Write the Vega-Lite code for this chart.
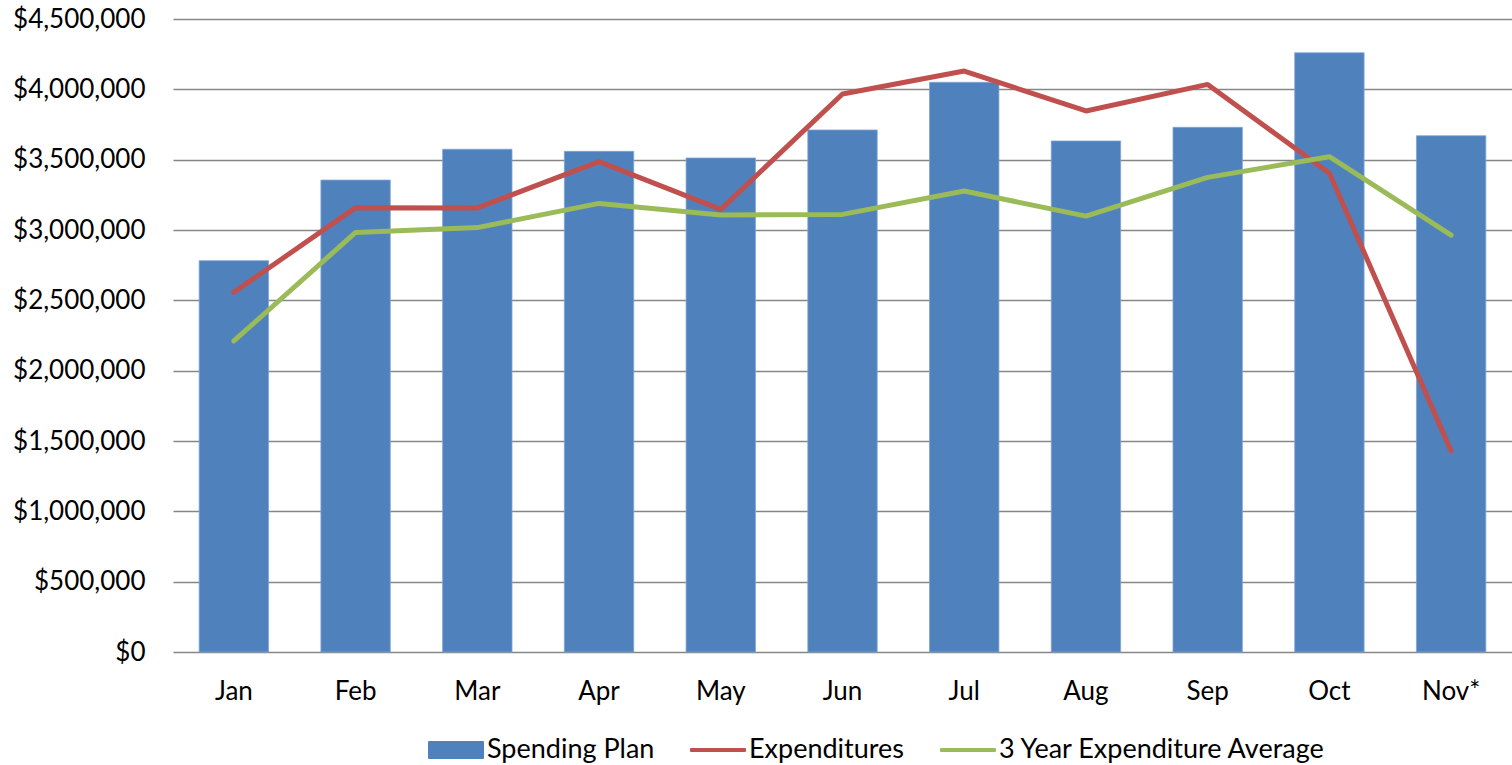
{
  "$schema": "https://vega.github.io/schema/vega-lite/v6.json",
  "width": 1339,
  "height": 633,
  "autosize": {"type": "none"},
  "padding": {"left": 173, "top": 19, "right": 0, "bottom": 113},
  "background": "white",
  "config": {"view": {"stroke": null}, "font": "Lato"},
  "data": {
    "values": [
      {"month": "Jan", "series": "Spending Plan", "value": 2782000},
      {"month": "Feb", "series": "Spending Plan", "value": 3355000},
      {"month": "Mar", "series": "Spending Plan", "value": 3574000},
      {"month": "Apr", "series": "Spending Plan", "value": 3559000},
      {"month": "May", "series": "Spending Plan", "value": 3512000},
      {"month": "Jun", "series": "Spending Plan", "value": 3711000},
      {"month": "Jul", "series": "Spending Plan", "value": 4050000},
      {"month": "Aug", "series": "Spending Plan", "value": 3633000},
      {"month": "Sep", "series": "Spending Plan", "value": 3730000},
      {"month": "Oct", "series": "Spending Plan", "value": 4260000},
      {"month": "Nov*", "series": "Spending Plan", "value": 3670000},
      {"month": "Jan", "series": "Expenditures", "value": 2557000},
      {"month": "Feb", "series": "Expenditures", "value": 3159000},
      {"month": "Mar", "series": "Expenditures", "value": 3157000},
      {"month": "Apr", "series": "Expenditures", "value": 3486000},
      {"month": "May", "series": "Expenditures", "value": 3147000},
      {"month": "Jun", "series": "Expenditures", "value": 3967000},
      {"month": "Jul", "series": "Expenditures", "value": 4130000},
      {"month": "Aug", "series": "Expenditures", "value": 3846000},
      {"month": "Sep", "series": "Expenditures", "value": 4035000},
      {"month": "Oct", "series": "Expenditures", "value": 3403000},
      {"month": "Nov*", "series": "Expenditures", "value": 1429000},
      {"month": "Jan", "series": "3 Year Expenditure Average", "value": 2211000},
      {"month": "Feb", "series": "3 Year Expenditure Average", "value": 2983000},
      {"month": "Mar", "series": "3 Year Expenditure Average", "value": 3017000},
      {"month": "Apr", "series": "3 Year Expenditure Average", "value": 3189000},
      {"month": "May", "series": "3 Year Expenditure Average", "value": 3107000},
      {"month": "Jun", "series": "3 Year Expenditure Average", "value": 3111000},
      {"month": "Jul", "series": "3 Year Expenditure Average", "value": 3277000},
      {"month": "Aug", "series": "3 Year Expenditure Average", "value": 3099000},
      {"month": "Sep", "series": "3 Year Expenditure Average", "value": 3374000},
      {"month": "Oct", "series": "3 Year Expenditure Average", "value": 3521000},
      {"month": "Nov*", "series": "3 Year Expenditure Average", "value": 2964000}
    ]
  },
  "encoding": {
    "x": {
      "field": "month",
      "type": "nominal",
      "sort": ["Jan", "Feb", "Mar", "Apr", "May", "Jun", "Jul", "Aug", "Sep", "Oct", "Nov*"],
      "scale": {"paddingInner": 0.43, "paddingOuter": 0.215},
      "axis": {
        "title": null,
        "labelAngle": 0,
        "labelFontSize": 26,
        "labelColor": "#000000",
        "labelPadding": 26,
        "ticks": false,
        "tickSize": 0,
        "domain": false,
        "grid": false
      }
    },
    "y": {
      "field": "value",
      "type": "quantitative",
      "scale": {"domain": [0, 4500000], "nice": false, "zero": true},
      "axis": {
        "title": null,
        "values": [0, 500000, 1000000, 1500000, 2000000, 2500000, 3000000, 3500000, 4000000, 4500000],
        "format": "$,.0f",
        "labelFontSize": 26,
        "labelColor": "#000000",
        "labelPadding": 28,
        "ticks": false,
        "tickSize": 0,
        "domain": false,
        "grid": true,
        "gridColor": "#868686",
        "gridWidth": 1.6
      }
    },
    "color": {
      "field": "series",
      "type": "nominal",
      "scale": {
        "domain": ["Spending Plan", "Expenditures", "3 Year Expenditure Average"],
        "range": ["#4F81BD", "#C0504D", "#9BBB59"]
      },
      "legend": {
        "title": null,
        "orient": "none",
        "direction": "horizontal",
        "columns": 3,
        "legendX": 255,
        "legendY": 703,
        "labelFontSize": 27,
        "labelColor": "#000000",
        "labelLimit": 0,
        "labelOffset": 3,
        "columnPadding": 35,
        "symbolSize": 2916,
        "encode": {
          "symbols": {
            "update": {
              "shape": [
                {"test": "datum.value === 'Spending Plan'", "value": "M-1,-0.3L1,-0.3L1,0.3L-1,0.3Z"},
                {"value": "M-1,-0.04L1,-0.04L1,0.04L-1,0.04Z"}
              ],
              "fill": [
                {"test": "datum.value === 'Spending Plan'", "value": "#4F81BD"},
                {"test": "datum.value === 'Expenditures'", "value": "#C0504D"},
                {"value": "#9BBB59"}
              ],
              "stroke": [
                {"test": "datum.value === 'Spending Plan'", "value": "#4F81BD"},
                {"test": "datum.value === 'Expenditures'", "value": "#C0504D"},
                {"value": "#9BBB59"}
              ],
              "strokeWidth": {"value": 2},
              "strokeJoin": {"value": "round"},
              "opacity": {"value": 1},
              "fillOpacity": {"value": 1},
              "strokeOpacity": {"value": 1}
            }
          }
        }
      }
    }
  },
  "layer": [
    {
      "transform": [{"filter": "datum.series === 'Spending Plan'"}],
      "mark": {"type": "bar", "stroke": "#7fa5d6", "strokeWidth": 0.8}
    },
    {
      "transform": [{"filter": "datum.series !== 'Spending Plan'"}],
      "mark": {"type": "line", "strokeWidth": 5, "strokeCap": "round", "strokeJoin": "round"}
    }
  ]
}
